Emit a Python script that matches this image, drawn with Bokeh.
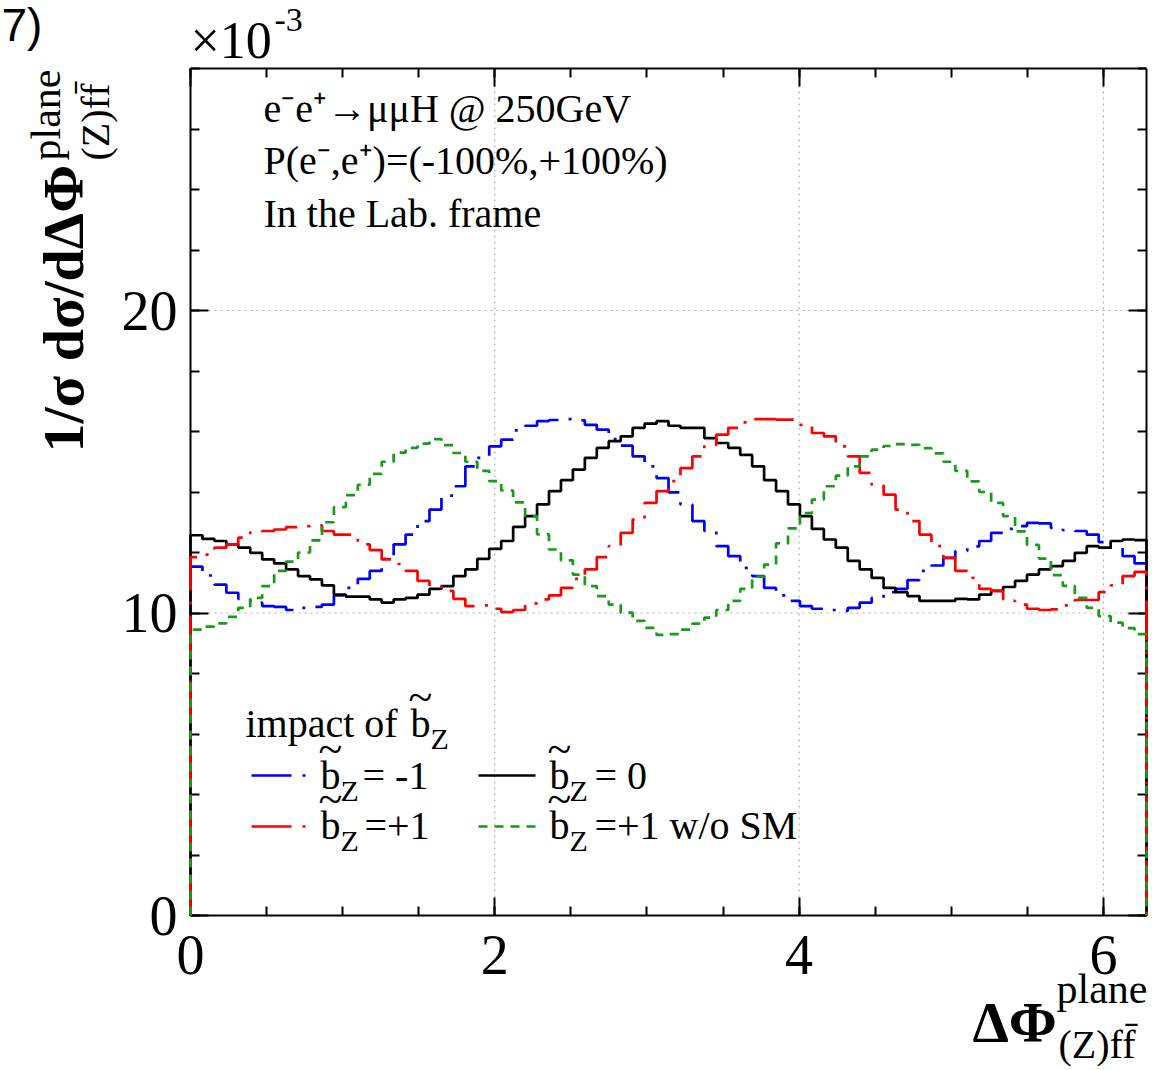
import numpy as np
from bokeh.plotting import figure
from bokeh.models import Label, Range1d, FixedTicker, LinearAxis
from bokeh.embed import file_html
from bokeh.resources import INLINE

# ---------------- data (values in units of 1e-3) ----------------
N_BINS = 80
X_MAX = 2 * np.pi
Y_MAX = 28

bz_m1 = [11.53, 11.24, 10.94, 10.67, 10.47, 10.34, 10.23, 10.20, 10.10, 10.17,
         10.20, 10.28, 10.58, 10.83, 11.13, 11.39, 11.79, 12.27, 12.59, 13.04,
         13.42, 13.88, 14.19, 14.85, 15.13, 15.51, 15.73, 16.04, 16.19, 16.34,
         16.38, 16.41, 16.37, 16.22, 16.06, 15.75, 15.53, 15.18, 14.85, 14.46,
         13.99, 13.59, 13.04, 12.71, 12.21, 11.88, 11.49, 11.22, 10.83, 10.58,
         10.40, 10.23, 10.14, 10.10, 10.07, 10.17, 10.34, 10.50, 10.69, 10.80,
         11.09, 11.39, 11.57, 11.82, 12.05, 12.20, 12.38, 12.65, 12.78, 12.87,
         12.98, 12.96, 12.81, 12.74, 12.71, 12.59, 12.34, 12.16, 11.88, 11.64]

bz_0 = [12.57, 12.45, 12.38, 12.27, 12.16, 11.99, 11.77, 11.64, 11.44, 11.22,
        11.11, 10.91, 10.61, 10.54, 10.54, 10.45, 10.34, 10.45, 10.50, 10.61,
        10.80, 10.89, 11.22, 11.44, 11.79, 12.12, 12.38, 12.85, 13.20, 13.59,
        14.03, 14.39, 14.74, 15.13, 15.46, 15.68, 15.84, 16.12, 16.26, 16.34,
        16.19, 16.12, 16.12, 15.78, 15.62, 15.46, 15.23, 14.85, 14.39, 14.03,
        13.59, 13.20, 12.78, 12.43, 12.16, 11.72, 11.44, 11.16, 10.83, 10.69,
        10.56, 10.40, 10.40, 10.40, 10.47, 10.45, 10.61, 10.73, 10.86, 11.06,
        11.27, 11.44, 11.55, 11.72, 11.99, 12.21, 12.16, 12.38, 12.43, 12.41]

bz_p1 = [11.85, 11.93, 12.16, 12.27, 12.49, 12.67, 12.71, 12.76, 12.84, 12.87,
         12.90, 12.71, 12.59, 12.59, 12.27, 12.08, 11.77, 11.62, 11.39, 11.06,
         10.89, 10.73, 10.47, 10.23, 10.25, 10.14, 10.03, 10.10, 10.32, 10.45,
         10.58, 10.83, 11.13, 11.44, 11.85, 12.21, 12.65, 13.09, 13.64, 14.03,
         14.36, 14.79, 15.18, 15.56, 15.90, 16.12, 16.30, 16.41, 16.41, 16.39,
         16.39, 16.22, 15.95, 15.84, 15.51, 15.18, 14.63, 14.24, 13.91, 13.42,
         13.04, 12.59, 12.21, 11.82, 11.39, 11.16, 10.80, 10.73, 10.40, 10.28,
         10.14, 10.10, 10.12, 10.25, 10.43, 10.43, 10.69, 10.91, 11.22, 11.36]

bz_p1_noSM = [9.45, 9.55, 9.66, 9.87, 10.17, 10.50, 10.89, 11.39, 11.70, 12.00,
              12.40, 13.00, 13.50, 13.90, 14.24, 14.60, 15.00, 15.30, 15.46, 15.60,
              15.75, 15.55, 15.29, 15.00, 14.70, 14.36, 14.05, 13.66, 13.20, 12.60,
              12.10, 11.74, 11.27, 10.89, 10.56, 10.28, 10.01, 9.74, 9.51, 9.28,
              9.30, 9.45, 9.65, 9.85, 10.10, 10.40, 10.80, 11.20, 11.60, 12.30,
              12.80, 13.30, 13.75, 14.19, 14.54, 14.85, 15.18, 15.40, 15.52, 15.58,
              15.56, 15.45, 15.28, 15.00, 14.70, 14.35, 14.00, 13.64, 13.20, 12.70,
              12.25, 11.80, 11.25, 10.90, 10.50, 10.17, 9.90, 9.68, 9.50, 9.30]

x_ticks = [0, 2, 4, 6]
x_minor = [0, 0.5, 1, 1.5, 2, 2.5, 3, 3.5, 4, 4.5, 5, 5.5, 6]
y_ticks = [0, 10, 20]
y_minor = [0, 2, 4, 6, 8, 10, 12, 14, 16, 18, 20, 22, 24, 26, 28]

# ---------------- geometry (picture px) ----------------
FONT = "Liberation Serif"
W, H = 1166, 1066
PL, PR, PT, PB = 190, 1146, 68, 915          # plot box in picture px
kx = X_MAX / (PR - PL)
ky = Y_MAX / (PB - PT)

p = figure(width=W, height=H, min_border=0,
           x_range=Range1d(-PL * kx, X_MAX + (W - PR) * kx),
           y_range=Range1d(-(H - PB) * ky, Y_MAX + PT * ky),
           output_backend="svg", toolbar_location=None)
p.background_fill_color = "white"
p.border_fill_color = "white"
p.outline_line_color = None
p.xgrid.visible = False
p.ygrid.visible = False

xt = FixedTicker(ticks=x_ticks, minor_ticks=x_minor)
yt = FixedTicker(ticks=y_ticks, minor_ticks=y_minor)


def style_axis(ax, labels=True):
    ax.axis_line_color = "black"
    ax.axis_line_width = 2
    ax.major_tick_in = 18
    ax.major_tick_out = 0
    ax.minor_tick_in = 9
    ax.minor_tick_out = 0
    ax.major_tick_line_width = 2
    ax.minor_tick_line_width = 2
    ax.major_tick_line_color = "black"
    ax.minor_tick_line_color = "black"
    ax.major_label_text_font = FONT
    ax.major_label_text_color = "black"
    ax.major_label_text_font_size = "56px"
    if not labels:
        ax.major_label_overrides = {t: "" for t in ax.ticker.ticks}


bx = p.xaxis[0]
bx.ticker = xt
bx.fixed_location = 0
bx.bounds = (0, X_MAX)
style_axis(bx)
bx.major_label_standoff = 20

ly = p.yaxis[0]
ly.ticker = yt
ly.fixed_location = 0
ly.bounds = (0, Y_MAX)
style_axis(ly)
ly.major_label_standoff = 13

ax_top = LinearAxis(ticker=xt, fixed_location=Y_MAX, bounds=(0, X_MAX))
style_axis(ax_top, labels=False)
p.add_layout(ax_top, "above")
ax_right = LinearAxis(ticker=yt, fixed_location=X_MAX, bounds=(0, Y_MAX))
style_axis(ax_right, labels=False)
p.add_layout(ax_right, "right")

# dotted grid at the major ticks, inside the plot box
gx = [t for t in x_ticks if 0 < t < X_MAX]
gy = [t for t in y_ticks if 0 < t < Y_MAX]
p.segment(x0=gx, y0=[0] * len(gx), x1=gx, y1=[Y_MAX] * len(gx),
          line_color="#b0b0b0", line_dash="2 4", line_width=1.2)
p.segment(x0=[0] * len(gy), y0=gy, x1=[X_MAX] * len(gy), y1=gy,
          line_color="#b0b0b0", line_dash="2 4", line_width=1.2)

# ---------------- histograms ----------------
edges = np.linspace(0, X_MAX, N_BINS + 1)


def step_xy(vals):
    v = np.asarray(vals, dtype=float)
    xs = np.concatenate([[0.0], np.column_stack([edges[:-1], edges[1:]]).ravel(), [X_MAX]])
    ys = np.concatenate([[0.0], np.repeat(v, 2), [0.0]])
    return xs, ys


BLUE, RED, GREEN = "#0000ff", "#ff0000", "#1a9a1a"
DASHDOT = "40 11 3 11"
series = [
    (bz_m1, BLUE, DASHDOT),
    (bz_0, "black", "solid"),
    (bz_p1, RED, DASHDOT),
    (bz_p1_noSM, GREEN, "9 7"),
]
for vals, col, dash in series:
    xs, ys = step_xy(vals)
    p.line(xs, ys, line_color=col, line_width=2.7, line_dash=dash, level="overlay")


# ---------------- annotations (positions given in picture px, baseline) ----------------
def lab(text, px, py, size, bold=False, angle=0.0, font=FONT, align="left"):
    off = 0.3375 * size            # baseline -> middle of the font box
    if angle:
        cx, cy = px - off, py
    else:
        cx, cy = px, py - off
    p.add_layout(Label(x=cx, y=H - cy, x_units="screen", y_units="screen",
                       text=text, text_font=font, text_font_size=f"{size}px",
                       text_font_style="bold" if bold else "normal",
                       text_color="black", text_baseline="middle",
                       text_align=align, angle=angle))


# panel tag (at the picture's corner)
lab("7)", 1, 40, 46, font="Liberation Sans")

# exponent
lab("\u00d710", 190, 58, 52)
lab("-3", 274, 31, 34)

# y-axis title (rotated, reads upward)
R = np.pi / 2
lab("1/\u03c3 d\u03c3/d\u0394\u03a6", 83, 452, 58, bold=True, angle=R)
lab("plane", 60, 160, 42, angle=R)
lab("(Z)ff\u0304", 108, 160, 40, angle=R)

# x-axis title
lab("\u0394\u03a6", 972, 1042, 58, bold=True)
lab("plane", 1056, 1003, 42)
lab("(Z)ff\u0304", 1058, 1057, 40)

# process text
lab("e\u207be\u207a\u2192\u03bc\u03bcH @ 250GeV", 263, 121, 40)
lab("P(e\u207b,e\u207a)=(-100%,+100%)", 263, 173, 40)
lab("In the Lab. frame", 263, 226, 40)


# legend
def btilde(px, base, suffix, sfx_x):
    lab("b", px, base, 40)
    lab("~", px - 2, base - 24, 44)
    lab("Z", px + 20, base + 12, 30)
    if suffix:
        lab(suffix, sfx_x, base, 40)


lab("impact of", 245, 736, 40)
btilde(410, 736, "", 0)

btilde(320, 788, "= -1", 362)
btilde(549, 788, "= 0", 594)
btilde(320, 838, "=+1", 364)
btilde(549, 838, "=+1 w/o SM", 594)


def dx(px):
    return (px - PL) * kx


def dy(py):
    return (PB - py) * ky


for (x0, x1, yy, col, dash) in [(251, 308, 775, BLUE, DASHDOT),
                                (478, 535, 775, "black", "solid"),
                                (251, 308, 826, RED, DASHDOT),
                                (478, 535, 826, GREEN, "9 7")]:
    p.line([dx(x0), dx(x1)], [dy(yy), dy(yy)], line_color=col, line_width=2.7, line_dash=dash)

open("out.html", "w").write(file_html(p, INLINE))
